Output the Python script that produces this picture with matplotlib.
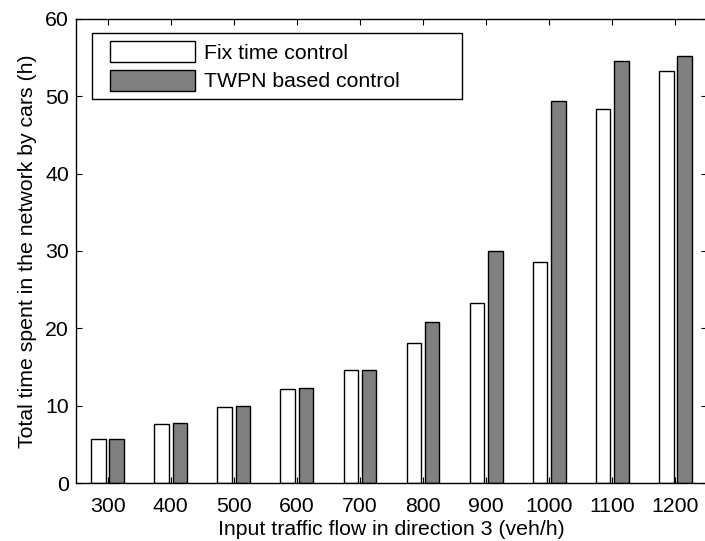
import matplotlib
matplotlib.use('Agg')
import matplotlib.pyplot as plt
from matplotlib.legend_handler import HandlerPatch
from matplotlib.patches import Rectangle
import numpy as np

# valores
fluxo = [300, 400, 500, 600, 700, 800, 900, 1000, 1100, 1200]
tempo_fixo = [5.65, 7.6, 9.8, 12.15, 14.65, 18.15, 23.25, 28.55, 48.3, 53.3]
tempo_twpn = [5.73, 7.8, 9.92, 12.25, 14.65, 20.8, 29.95, 49.4, 54.55, 55.2]
rotulos = ['Fix time control', 'TWPN based control']
cores = ['white', '#808080']

plt.rcParams['font.family'] = ['Liberation Sans', 'DejaVu Sans']
plt.rcParams['font.size'] = 15.3

fig = plt.figure(figsize=(7.05, 5.41), dpi=100)
ax = fig.add_axes([0.1078, 0.1072, 0.895, 0.8577])

x = np.array(fluxo)
ax.bar(x - 14.5, tempo_fixo, width=23, color=cores[0], edgecolor='black', linewidth=1.0)
ax.bar(x + 14.5, tempo_twpn, width=23, color=cores[1], edgecolor='black', linewidth=1.0)

ax.set_xlim(250, 1250)
ax.set_ylim(0, 60)
ax.set_xticks(fluxo)
ax.set_yticks(range(0, 61, 10))
ax.tick_params(direction='in', length=4, width=0.8, top=True, right=True)
ax.tick_params(axis='x', pad=10)
ax.tick_params(axis='y', pad=5)
for s in ax.spines.values():
    s.set_linewidth(1.0)

ax.set_xlabel('Input traffic flow in direction 3 (veh/h)', labelpad=3)
ax.set_ylabel('Total time spent in the network by cars (h)', labelpad=6)

# legenda no estilo MATLAB, com espaço à esquerda dos retângulos
handles = [Rectangle((0, 0), 1, 1, facecolor=c, edgecolor='black', linewidth=1.0) for c in cores]
leg = ax.legend(handles, rotulos, loc='upper left',
                bbox_to_anchor=(0.026, 0.959, 0.585, 0.01),
                mode='expand', fancybox=False, framealpha=1, edgecolor='black',
                handlelength=4.45, handleheight=1.13, handletextpad=0.45,
                labelspacing=0.34, borderpad=0.36, borderaxespad=0,
                handler_map={Rectangle: HandlerPatch(xpad=0.48)})
leg.get_frame().set_linewidth(1.0)

fig.savefig('out.png', dpi=100)
